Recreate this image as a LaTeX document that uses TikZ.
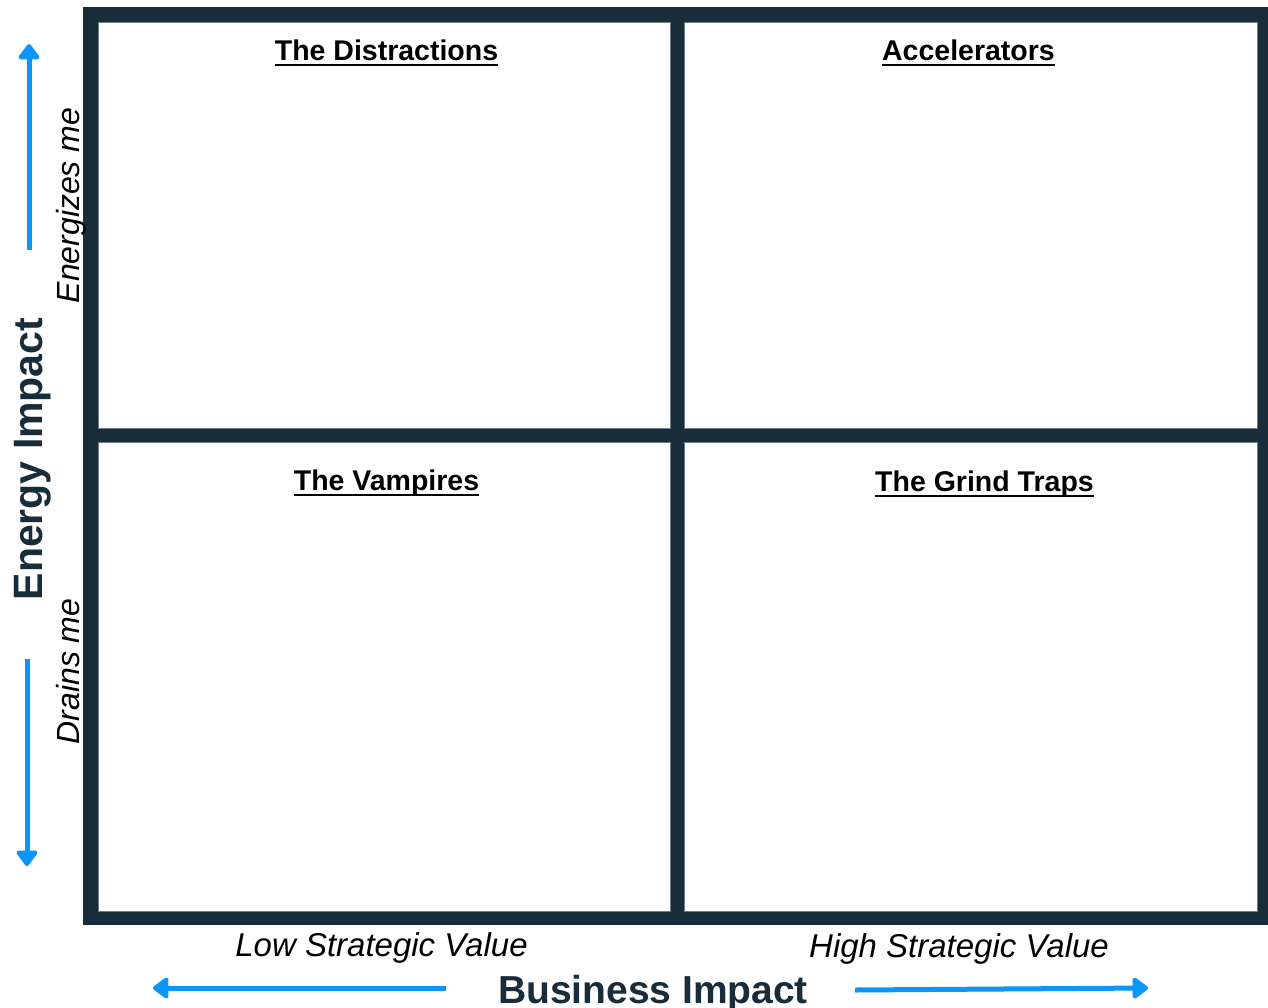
\documentclass[tikz,border=0pt]{standalone}
\usepackage{fontspec}
\setmainfont{Liberation Sans}
\usetikzlibrary{arrows.meta}
\definecolor{navy}{RGB}{24,44,58}
\definecolor{navyedge}{RGB}{110,125,138}
\definecolor{axblue}{RGB}{12,150,250}
\begin{document}
\begin{tikzpicture}[x=1pt,y=-1pt,
  quad/.style={rectangle,fill=white,draw=navyedge,line width=0.6pt,inner sep=0pt},
  qtitle/.style={font=\fontsize{28.5}{30}\selectfont\bfseries,anchor=base,inner sep=0pt,text=black},
  uline/.style={line width=2.6pt,black},
  axtitle/.style={font=\fontsize{40}{42}\selectfont\bfseries,anchor=base,inner sep=0pt,text=navy},
  axlabel/.style={font=\fontsize{33}{35}\selectfont\itshape,anchor=base,inner sep=0pt,text=black},
  sidelabel/.style={font=\fontsize{32}{34}\selectfont\itshape,anchor=base,inner sep=0pt,text=black,rotate=90},
  axarrow/.style={draw=axblue,line width=5pt,-{Triangle[width=24pt,length=17pt,round]}}
]
\useasboundingbox (0,0) rectangle (1268,1007);
\fill[white] (0,0) rectangle (1268,1007);
% frame
\fill[navy] (83,7) rectangle (1272,925);
% quadrants
\node[quad,minimum width=572pt,minimum height=406pt] (tl) at (384,225) {};
\node[quad,minimum width=573pt,minimum height=406pt] (tr) at (970.5,225) {};
\node[quad,minimum width=572pt,minimum height=469pt] (bl) at (384,676.5) {};
\node[quad,minimum width=573pt,minimum height=469pt] (br) at (970.5,676.5) {};
% quadrant titles
\node[qtitle] (t1) at (386.5,60) {The Distractions};
\node[qtitle] (t2) at (968.5,60) {Accelerators};
\node[qtitle] (t3) at (386.5,490) {The Vampires};
\node[qtitle] (t4) at (984.5,491) {The Grind Traps};
\foreach \t in {t1,t2,t3,t4}
  \draw[uline] ([yshift=-5pt]\t.base west) -- ([yshift=-5pt]\t.base east);
% axis titles
\node[axtitle,rotate=90,font=\fontsize{41}{43}\selectfont\bfseries] (ey) at (42,459) {Energy Impact};
\node[axtitle,font=\fontsize{39}{41}\selectfont\bfseries] (bx) at (653,1003) {Business Impact};
% axis labels
\node[axlabel] (low) at (381.5,956) {Low Strategic Value};
\node[axlabel] (high) at (959,957) {High Strategic Value};
\node[sidelabel] (en) at (79,205.5) {Energizes me};
\node[sidelabel] (dr) at (79,671.5) {Drains me};
% arrows
\coordinate (upS) at (29,250);
\coordinate (upE) at (29,44);
\coordinate (dnS) at (27,659);
\coordinate (dnE) at (27,866);
\coordinate (lfS) at (446,988);
\coordinate (lfE) at (153,988);
\coordinate (rtS) at (855,990);
\coordinate (rtE) at (1148,988);
\draw[axarrow] (upS) -- (upE);
\draw[axarrow] (dnS) -- (dnE);
\draw[axarrow] (lfS) -- (lfE);
\draw[axarrow] (rtS) -- (rtE);
\end{tikzpicture}
\end{document}
